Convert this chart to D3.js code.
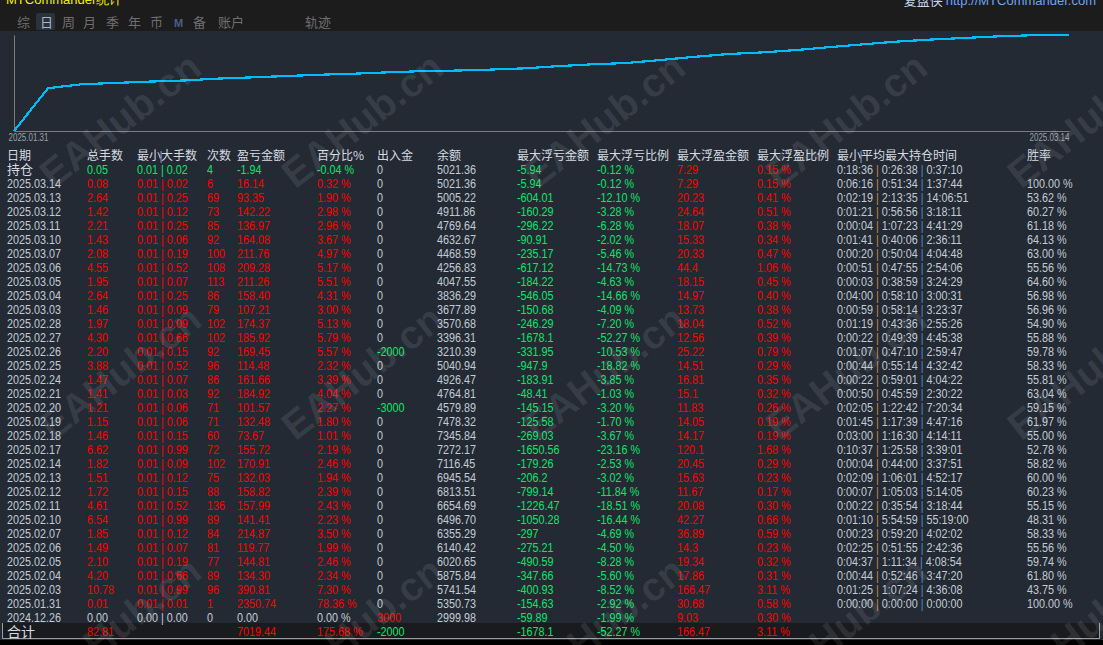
<!DOCTYPE html>
<html>
<head>
<meta charset="utf-8">
<script src="https://cdn.jsdelivr.net/npm/d3@7"></script>
<style>
  body { margin: 0; background: #000; overflow: hidden; }
  svg { display: block; }
</style>
</head>
<body>
<script>
// daily rows, newest first (as listed in the table)
var dates = ['2025.03.14','2025.03.13','2025.03.12','2025.03.11','2025.03.10','2025.03.07','2025.03.06','2025.03.05','2025.03.04','2025.03.03',
  '2025.02.28','2025.02.27','2025.02.26','2025.02.25','2025.02.24','2025.02.21','2025.02.20','2025.02.19','2025.02.18','2025.02.17',
  '2025.02.14','2025.02.13','2025.02.12','2025.02.11','2025.02.10','2025.02.07','2025.02.06','2025.02.05','2025.02.04','2025.02.03',
  '2025.01.31','2024.12.26'];
var lots = [0.08,2.64,1.42,2.21,1.43,2.08,4.55,1.95,2.64,1.46,1.97,4.30,2.20,3.88,1.47,1.41,1.21,1.15,1.46,6.62,1.82,1.51,1.72,4.61,6.54,1.85,1.49,2.10,4.20,10.78,0.01,0.00];
var minLots = [0.01,0.01,0.01,0.01,0.01,0.01,0.01,0.01,0.01,0.01,0.01,0.01,0.01,0.01,0.01,0.01,0.01,0.01,0.01,0.01,0.01,0.01,0.01,0.01,0.01,0.01,0.01,0.01,0.01,0.01,0.01,0.00];
var maxLots = [0.02,0.25,0.12,0.25,0.06,0.19,0.52,0.07,0.25,0.09,0.09,0.66,0.15,0.52,0.07,0.03,0.06,0.06,0.15,0.99,0.09,0.12,0.15,0.52,0.99,0.12,0.07,0.19,0.66,0.99,0.01,0.00];
var trades = [6,69,73,85,92,100,108,113,86,79,102,102,92,96,86,92,71,71,60,72,102,75,88,136,89,84,81,77,89,96,1,0];
var profit = [16.14,93.35,142.22,136.97,164.08,211.76,209.28,211.26,158.40,107.21,174.37,185.92,169.45,114.48,161.66,184.92,101.57,132.48,73.67,155.72,170.91,132.03,158.82,157.99,141.41,214.87,119.77,144.81,134.30,390.81,2350.74,0.00];
var pct = [0.32,1.90,2.98,2.96,3.67,4.97,5.17,5.51,4.31,3.00,5.13,5.79,5.57,2.32,3.39,4.04,2.27,1.80,1.01,2.19,2.46,1.94,2.39,2.43,2.23,3.50,1.99,2.46,2.34,7.30,78.36,0.00];
var flow = [0,0,0,0,0,0,0,0,0,0,0,0,-2000,0,0,0,-3000,0,0,0,0,0,0,0,0,0,0,0,0,0,0,3000];
var balance = [5021.36,5005.22,4911.86,4769.64,4632.67,4468.59,4256.83,4047.55,3836.29,3677.89,3570.68,3396.31,3210.39,5040.94,4926.47,4764.81,4579.89,7478.32,7345.84,7272.17,7116.45,6945.54,6813.51,6654.69,6496.70,6355.29,6140.42,6020.65,5875.84,5741.54,5350.73,2999.98];
var floatLoss = [-5.94,-604.01,-160.29,-296.22,-90.91,-235.17,-617.12,-184.22,-546.05,-150.68,-246.29,-1678.1,-331.95,-947.9,-183.91,-48.41,-145.15,-125.58,-269.03,-1650.56,-179.26,-206.2,-799.14,-1226.47,-1050.28,-297,-275.21,-490.59,-347.66,-400.93,-154.63,-59.89];
var floatLossPct = [-0.12,-12.10,-3.28,-6.28,-2.02,-5.46,-14.73,-4.63,-14.66,-4.09,-7.20,-52.27,-10.53,-18.82,-3.85,-1.03,-3.20,-1.70,-3.67,-23.16,-2.53,-3.02,-11.84,-18.51,-16.44,-4.69,-4.50,-8.28,-5.60,-8.52,-2.92,-1.99];
var floatProfit = [7.29,20.23,24.64,18.07,15.33,20.33,44.4,18.15,14.97,13.73,18.04,12.56,25.22,14.51,16.81,15.1,11.83,14.05,14.17,120.1,20.45,15.63,11.67,20.08,42.27,36.89,14.3,19.34,17.86,166.47,30.68,9.03];
var floatProfitPct = [0.15,0.41,0.51,0.38,0.34,0.47,1.06,0.45,0.40,0.38,0.52,0.39,0.79,0.29,0.35,0.32,0.26,0.19,0.19,1.68,0.29,0.23,0.17,0.30,0.66,0.59,0.23,0.32,0.31,3.11,0.58,0.30];
var minHold = ['0:06:16','0:02:19','0:01:21','0:00:04','0:01:41','0:00:20','0:00:51','0:00:03','0:04:00','0:00:59','0:01:19','0:00:22','0:01:07','0:00:44','0:00:22','0:00:50','0:02:05','0:01:45','0:03:00','0:10:37','0:00:04','0:02:09','0:00:07','0:00:22','0:01:10','0:00:23','0:02:25','0:04:37','0:00:44','0:01:25','0:00:00',null];
var avgHold = ['0:51:34','2:13:35','0:56:56','1:07:23','0:40:06','0:50:04','0:47:55','0:38:59','0:58:10','0:58:14','0:43:36','0:49:39','0:47:10','0:55:14','0:59:01','0:45:59','1:22:42','1:17:39','1:16:30','1:25:58','0:44:00','1:06:01','1:05:03','0:35:54','5:54:59','0:59:20','0:51:55','1:11:34','0:52:46','1:07:24','0:00:00',null];
var maxHold = ['1:37:44','14:06:51','3:18:11','4:41:29','2:36:11','4:04:48','2:54:06','3:24:29','3:00:31','3:23:37','2:55:26','4:45:38','2:59:47','4:32:42','4:04:22','2:30:22','7:20:34','4:47:16','4:14:11','3:39:01','3:37:51','4:52:17','5:14:05','3:18:44','55:19:00','4:02:02','2:42:36','4:08:54','3:47:20','4:36:08','0:00:00',null];
var winRate = [100.00,53.62,60.27,61.18,64.13,63.00,55.56,64.60,56.98,56.96,54.90,55.88,59.78,58.33,55.81,63.04,59.15,61.97,55.00,52.78,58.82,60.00,60.23,55.15,48.31,58.33,55.56,59.74,61.80,43.75,100.00,null];

// open position row (持仓)
var openLots = [0.05, 0.01, 0.02];
var openTrades = 4;
var openProfit = [-1.94, -0.04];
var openBalance = 5021.36;
var openFloat = [-5.94, -0.12, 7.29, 0.15];
var openHold = ['0:18:36', '0:26:38', '0:37:10'];

// total row (合计)
var totalLots = 82.81;
var totalProfit = [7019.44, 175.68];
var totalFlow = -2000;
var totalFloat = [-1678.1, -52.27, 166.47, 3.11];

var headers = ['日期','总手数','最小大手数','次数','盈亏金额','百分比%','出入金','余额','最大浮亏金额','最大浮亏比例','最大浮盈金额','最大浮盈比例','最小平均最大持仓时间','胜率'];
var tabs = ['综','日','周','月','季','年','币','M','备','账户','轨迹'];

var RED = '#ff0000', GREEN = '#12e26c', GREY = '#c3cad5';
var NUM = '"Liberation Sans", Arial, sans-serif';
var CJK = '"Noto Sans CJK SC", "Noto Sans", sans-serif';

var svg = d3.select('body').append('svg').attr('width', 1103).attr('height', 645);

// backgrounds
svg.append('rect').attr('width', 1103).attr('height', 31).attr('fill', '#1c1c1c');
svg.append('rect').attr('y', 31).attr('width', 1103).attr('height', 609).attr('fill', '#232a33');

// title bar
svg.append('text').attr('x', 6).attr('y', 4).style('font', '13px ' + NUM).attr('fill', '#f0f000').text('MTCommander统计');
var link = svg.append('text').attr('x', 1096).attr('y', 5).attr('text-anchor', 'end').style('font', '13px ' + NUM);
link.append('tspan').attr('fill', '#c6d6ee').style('font-family', CJK).text('复盘侠 ');
link.append('tspan').attr('fill', '#6aa6f4').text('http://MTCommander.com');

// tabs
var tabX = [17, 40, 62, 83, 106, 128, 150, 174, 193, 218, 305];
svg.append('rect').attr('x', 36).attr('y', 13).attr('width', 19).attr('height', 17).attr('rx', 2).attr('fill', '#2a323d');
svg.append('g').selectAll('text').data(tabs).join('text')
  .attr('x', function(d, i) { return tabX[i]; })
  .attr('y', 27)
  .style('font', function(d) { return d === 'M' ? 'bold 11px ' + NUM : '13px ' + CJK; })
  .attr('fill', function(d, i) { return i === 1 ? '#aab6c6' : d === 'M' ? '#4a5f8c' : '#6f6f6f'; })
  .text(function(d) { return d; });

// equity chart: cumulative daily percent, oldest first
var chron = pct.slice().reverse();
var curve = Array.from(d3.cumsum(chron));
var chronDates = dates.slice().reverse();
var x = d3.scaleLinear().domain([0, curve.length - 1]).range([14, 1069]);
var y = d3.scaleLinear().domain([0, d3.max(curve)]).range([131, 35]);

var xAxis = svg.append('g').attr('transform', 'translate(0,131)')
  .call(d3.axisBottom(x).tickValues([0, curve.length - 1]).tickSize(0).tickSizeOuter(0)
    .tickFormat(function(d) { return d === 0 ? chronDates[1] : chronDates[chronDates.length - 1]; }));
xAxis.select('.domain').attr('stroke', '#7c7c7c');
xAxis.selectAll('text').style('font', '10px ' + NUM).attr('fill', '#9aa1aa')
  .attr('text-anchor', function(d) { return d === 0 ? 'start' : 'end'; })
  .attr('transform', function(d) { return d === 0 ? 'translate(-6,0) scale(0.8,1)' : 'scale(0.8,1)'; });

var yAxis = svg.append('g').attr('transform', 'translate(14,0)')
  .call(d3.axisLeft(y).tickValues([]).tickSizeOuter(0));
yAxis.select('.domain').attr('stroke', '#7c7c7c');

svg.append('path').datum(curve)
  .attr('fill', 'none').attr('stroke', '#00bdfa').attr('stroke-width', 2.2)
  .attr('shape-rendering', 'crispEdges')
  .attr('d', d3.line().x(function(d, i) { return x(i); }).y(function(d) { return y(d); }));

// table rows
function sign(v) { return v > 0 ? RED : v < 0 ? GREEN : GREY; }
function f2(v) { return v.toFixed(2); }
function pc(v) { return v.toFixed(2) + ' %'; }

var rows = dates.map(function(d, i) {
  return {idx: i, label: d, cjk: false, lots: lots[i], minLot: minLots[i], maxLot: maxLots[i], trades: trades[i],
    profit: profit[i], pct: pct[i], flow: flow[i], balance: balance[i], fl: floatLoss[i], flp: floatLossPct[i],
    fp: floatProfit[i], fpp: floatProfitPct[i], hold: minHold[i] ? [minHold[i], avgHold[i], maxHold[i]] : null, win: winRate[i]};
});
rows.unshift({idx: -1, label: '持仓', cjk: true, lots: openLots[0], minLot: openLots[1], maxLot: openLots[2], trades: openTrades,
  profit: openProfit[0], pct: openProfit[1], flow: 0, balance: openBalance, fl: openFloat[0], flp: openFloat[1],
  fp: openFloat[2], fpp: openFloat[3], hold: openHold, win: null});
rows.push({idx: dates.length, label: '合计', cjk: true, lots: totalLots, minLot: null, maxLot: null, trades: null,
  profit: totalProfit[0], pct: totalProfit[1], flow: totalFlow, balance: null, fl: totalFloat[0], flp: totalFloat[1],
  fp: totalFloat[2], fpp: totalFloat[3], hold: null, win: null});

var rowY = d3.scaleLinear().domain([0, 1]).range([188, 202]);

// total row background and frame
svg.append('rect').attr('x', 2).attr('y', rowY(dates.length) - 13).attr('width', 1097).attr('height', 15).attr('fill', '#1a1b1e');
svg.append('path').attr('d', 'M2.5,' + (rowY(dates.length) - 13) + 'V638.5H1099.5V' + (rowY(dates.length) - 13))
  .attr('fill', 'none').attr('stroke', '#9c9c9c');

// header
var colX = [7, 87, 137, 207, 237, 317, 377, 437, 517, 597, 677, 757, 837, 1027];
var head = svg.append('g');
head.selectAll('text').data(headers).join('text')
  .attr('x', function(d, i) { return colX[i]; }).attr('y', 160)
  .style('font', '12px ' + CJK).attr('fill', '#d6dae0')
  .text(function(d) { return d; });
head.selectAll('text.bar').data([colX[2] + 24, colX[12] + 24]).join('text').attr('class', 'bar')
  .attr('x', function(d) { return d; }).attr('y', 160).attr('text-anchor', 'middle')
  .style('font', '12px ' + NUM).attr('fill', '#7f9cc8').text('|');

var cols = [
  {x: colX[1], key: 'lots', fmt: f2, col: function(r) { return sign(r.profit); }},
  {x: colX[3], key: 'trades', fmt: String, col: function(r) { return sign(r.profit); }},
  {x: colX[4], key: 'profit', fmt: f2, col: function(r) { return sign(r.profit); }},
  {x: colX[5], key: 'pct', fmt: pc, col: function(r) { return sign(r.profit); }},
  {x: colX[6], key: 'flow', fmt: String, col: function(r) { return sign(r.flow); }},
  {x: colX[7], key: 'balance', fmt: f2, col: function() { return GREY; }},
  {x: colX[8], key: 'fl', fmt: String, col: function() { return GREEN; }},
  {x: colX[9], key: 'flp', fmt: pc, col: function() { return GREEN; }},
  {x: colX[10], key: 'fp', fmt: String, col: function() { return RED; }},
  {x: colX[11], key: 'fpp', fmt: pc, col: function() { return RED; }},
  {x: colX[13], key: 'win', fmt: pc, col: function() { return GREY; }}
];

function place(x0) {
  return function(r) { return 'translate(' + x0 + ',' + rowY(r.idx) + ') scale(0.83,1)'; };
}

var body = svg.append('g').style('font', '13px ' + NUM);

// date / label column
body.append('g').selectAll('text').data(rows.filter(function(r) { return !r.cjk; })).join('text')
  .attr('transform', place(colX[0])).attr('fill', GREY).text(function(r) { return r.label; });
body.append('g').selectAll('text').data(rows.filter(function(r) { return r.cjk; })).join('text')
  .attr('x', colX[0]).attr('y', function(r) { return rowY(r.idx) + (r.idx < 0 ? 0 : 1); })
  .style('font', function(r) { return (r.idx < 0 ? 13 : 14) + 'px ' + CJK; })
  .attr('fill', '#d6dae0').text(function(r) { return r.label; });

cols.forEach(function(c) {
  body.append('g').selectAll('text').data(rows.filter(function(r) { return r[c.key] != null; })).join('text')
    .attr('transform', place(c.x))
    .attr('fill', c.col)
    .text(function(r) { return c.fmt(r[c.key]); });
});

// min | max lots
var lotCells = body.append('g').selectAll('text').data(rows.filter(function(r) { return r.minLot != null; })).join('text')
  .attr('transform', place(colX[2])).attr('fill', function(r) { return sign(r.profit); });
lotCells.append('tspan').text(function(r) { return f2(r.minLot); });
lotCells.append('tspan').text(' | ');
lotCells.append('tspan').text(function(r) { return f2(r.maxLot); });

// min | avg | max holding time
var holdCells = body.append('g').selectAll('text').data(rows.filter(function(r) { return r.hold; })).join('text')
  .attr('transform', place(colX[12])).attr('fill', GREY);
holdCells.append('tspan').text(function(r) { return r.hold[0]; });
holdCells.append('tspan').attr('fill', '#c08a4a').text(' | ');
holdCells.append('tspan').text(function(r) { return r.hold[1]; });
holdCells.append('tspan').attr('fill', '#4f88cc').text(' | ');
holdCells.append('tspan').text(function(r) { return r.hold[2]; });

// watermark overlay
var wm = svg.append('g');
d3.range(5).forEach(function(gx) {
  d3.range(3).forEach(function(gy) {
    wm.append('text')
      .attr('transform', 'translate(' + (120 + 242 * gx) + ',' + (120 + 252 * gy) + ') rotate(-38)')
      .attr('text-anchor', 'middle').attr('dy', '0.35em')
      .style('font', 'bold 40px ' + NUM).attr('fill', '#ffffff').attr('fill-opacity', 0.09)
      .text('EAHub.cn');
  });
});
</script>
</body>
</html>
